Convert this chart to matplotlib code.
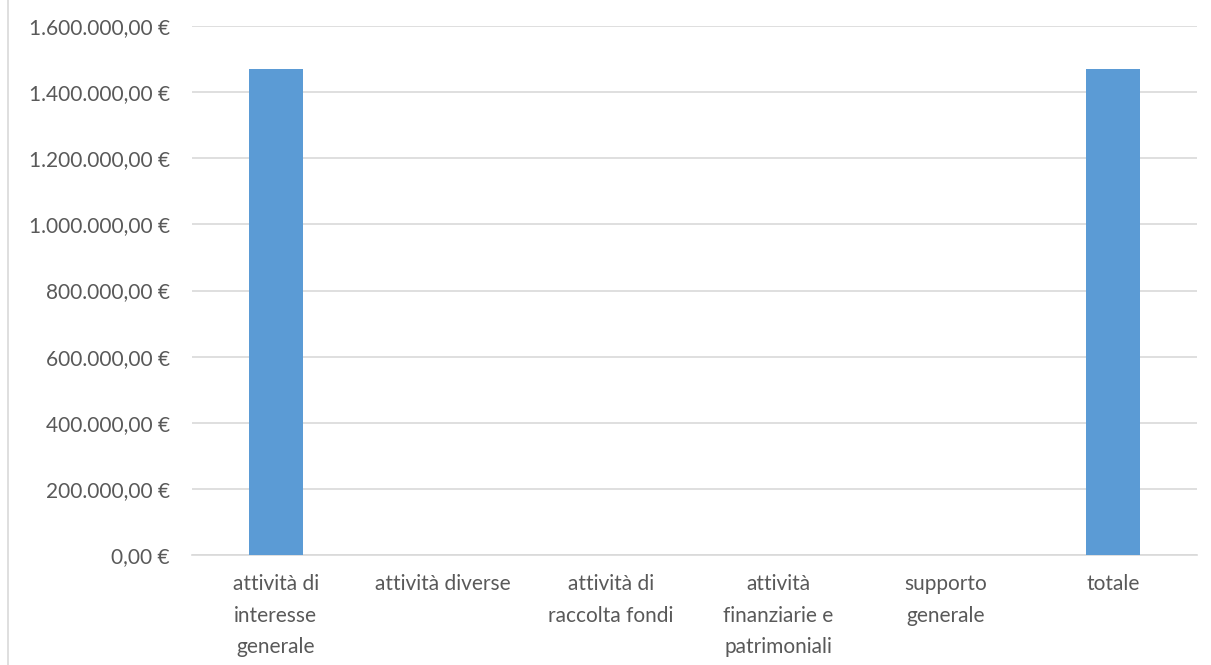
import matplotlib.pyplot as plt
from matplotlib.ticker import FuncFormatter, MultipleLocator
from matplotlib.lines import Line2D

categories = ["attività di\ninteresse\ngenerale", "attività diverse",
              "attività di\nraccolta fondi", "attività\nfinanziarie e\npatrimoniali",
              "supporto\ngenerale", "totale"]
values = [1470000, 0, 0, 0, 0, 1470000]


# Italian currency format, e.g. 1.600.000,00 €
def euro(v, pos):
    s = f"{v:,.2f}".replace(",", "X").replace(".", ",").replace("X", ".")
    return s + " €"


plt.rcParams['font.family'] = ['Lato', 'DejaVu Sans']

fig = plt.figure(figsize=(12.11, 6.65), dpi=100)
ax = fig.add_axes([192 / 1211, 1 - 555 / 665, (1197 - 192) / 1211, (555 - 26) / 665])

x = range(len(categories))
ax.bar(x, values, width=0.32, color="#5b9bd5", zorder=3)

ax.set_xlim(-0.5, len(categories) - 0.5)
ax.set_ylim(0, 1600000)
ax.yaxis.set_major_locator(MultipleLocator(200000))
ax.yaxis.set_major_formatter(FuncFormatter(euro))
ax.set_xticks(list(x))
ax.set_xticklabels(categories, linespacing=1.72)

ax.grid(axis="y", color="#d9d9d9", linewidth=1.2, zorder=0)
for side in ["top", "right", "left"]:
    ax.spines[side].set_visible(False)
ax.spines["bottom"].set_color("#d9d9d9")
ax.spines["bottom"].set_linewidth(1.2)
ax.tick_params(axis="both", length=0, labelsize=15, colors="#595959")
ax.tick_params(axis="y", pad=16)
ax.tick_params(axis="x", pad=14)

# thin border on the left of the chart area
fig.add_artist(Line2D([8 / 1211, 8 / 1211], [0, 1], color="#d9d9d9", linewidth=1.2))

fig.savefig("out.png", dpi=100)
